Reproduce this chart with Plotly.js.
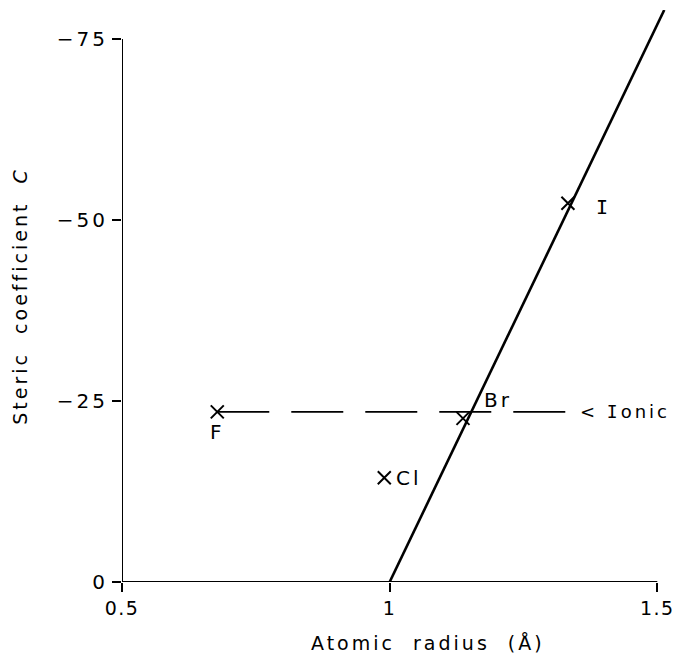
<!DOCTYPE html>
<html>
<head>
<meta charset="utf-8">
<script src="https://cdn.plot.ly/plotly-3.0.1.min.js"></script>
<style>
html,body{margin:0;padding:0;background:#fff;}
#chart{width:675px;height:655px;}
svg text{letter-spacing:3px;}
.xtick text{letter-spacing:1.5px;}
</style>
</head>
<body>
<div id="chart"></div>
<script>
// Data
const elements = ['F', 'Cl', 'Br', 'I'];
const atomicRadius = [0.678, 0.99, 1.137, 1.333];
const stericC = [-23.5, -14.4, -22.6, -52.3];

const fitX = [1.0, 1.513];
const fitY = [0, -79];

const ionicX = [0.678, 1.33];
const ionicY = [-23.5, -23.5];
const ionicLabel = '< Ionic';

const xTickVals = [0.5, 1, 1.5];
const xTickText = ['0.5', '1', '1.5'];
const yTickVals = [0, -25, -50, -75];
const yTickText = ['0', '\u221225', '\u221250', '\u221275'];

const xTitle = 'Atomic  radius  (Å)';
const yTitle = 'Steric  coefficient  <i>C</i>';

// label offsets (px) for element labels
const labelShiftX = [0, 25, 35, 36];
const labelShiftY = [-20, 0, 18, -4];

const FONT = 'DejaVu Sans, sans-serif';
const SERIF_I = s => s.replace(/I/g, '<span style="font-family:DejaVu Sans Mono">I</span>');
const nb = s => s.replace(/ /g, '\u00a0');

const traces = [
  {x: fitX, y: fitY, mode: 'lines', line: {color: '#000', width: 2.6}, hoverinfo: 'skip'},
  {x: ionicX, y: ionicY, mode: 'lines', line: {color: '#000', width: 1.6, dash: '52px,22px'}, hoverinfo: 'skip'},
  {x: atomicRadius, y: stericC, mode: 'markers',
   marker: {symbol: 'x-thin', size: 13, color: '#000', line: {color: '#000', width: 2}}, cliponaxis: false}
];

const annotations = elements.map((el, i) => ({
  x: atomicRadius[i], y: stericC[i], xref: 'x', yref: 'y', text: SERIF_I(el), showarrow: false,
  xshift: labelShiftX[i], yshift: labelShiftY[i],
  font: {family: FONT, size: 20, color: '#000'}
}));
annotations.push({
  x: ionicX[1], y: ionicY[1], xref: 'x', yref: 'y', text: SERIF_I(nb(ionicLabel)), showarrow: false,
  xanchor: 'left', xshift: 12, yshift: 0,
  font: {family: FONT, size: 18, color: '#000'}
});
annotations.push({
  x: 0.56, y: -0.106, xref: 'paper', yref: 'paper', text: nb(xTitle), showarrow: false,
  xanchor: 'center', yanchor: 'middle',
  font: {family: FONT, size: 19, color: '#000'}
});

const xMin = Math.min(...xTickVals), xMax = Math.max(...xTickVals);
const yMin = Math.min(...yTickVals), yMax = Math.max(...yTickVals);

const layout = {
  width: 675, height: 655,
  margin: {l: 122, r: 7, t: 10, b: 73},
  paper_bgcolor: '#fff', plot_bgcolor: '#fff',
  showlegend: false,
  font: {family: FONT, color: '#000'},
  xaxis: {
    range: [0.5, 1.52], tickvals: xTickVals, ticktext: xTickText,
    ticks: 'outside', ticklen: 9, tickwidth: 2, tickcolor: '#000',
    showline: false, showgrid: false, zeroline: false, ticklabeloverflow: 'allow',
    tickfont: {family: FONT, size: 19, color: '#000'}
  },
  yaxis: {
    range: [0, -79], tickvals: yTickVals, ticktext: yTickText,
    ticks: 'outside', ticklen: 9, tickwidth: 2, tickcolor: '#000',
    showline: false, showgrid: false, zeroline: false, ticklabeloverflow: 'allow',
    tickfont: {family: FONT, size: 20, color: '#000'},
    title: {text: nb(yTitle), font: {family: FONT, size: 19, color: '#000'}, standoff: 24}
  },
  shapes: [
    {type: 'line', xref: 'x', yref: 'y', x0: xMin, x1: xMax, y0: yMax, y1: yMax, line: {color: '#000', width: 2}},
    {type: 'line', xref: 'x', yref: 'y', x0: xMin, x1: xMin, y0: yMax, y1: yMin, line: {color: '#000', width: 2}}
  ],
  annotations: annotations
};

Plotly.newPlot('chart', traces, layout, {displayModeBar: false, staticPlot: true});
</script>
</body>
</html>
